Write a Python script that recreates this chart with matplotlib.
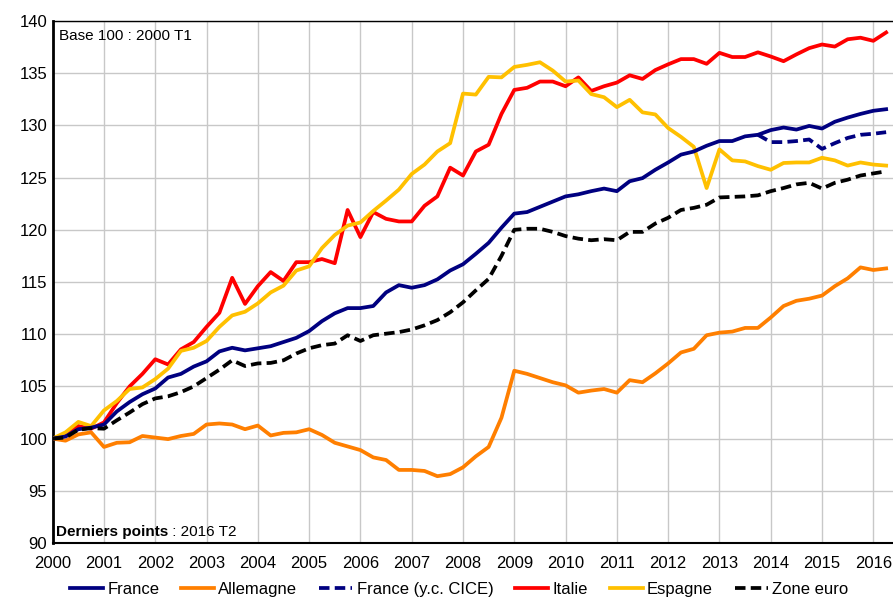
import numpy as np
import matplotlib
matplotlib.use("Agg")
import matplotlib.pyplot as plt

plt.rcParams['font.family'] = ['Liberation Sans', 'DejaVu Sans']

# trimestres 2000 T1 -> 2016 T2
quarters = np.arange(2000, 2016.5, 0.25)

france = [100, 100.2, 100.9, 101.05,
          101.35, 102.6, 103.5, 104.25,
          104.8, 105.85, 106.2, 106.9,
          107.4, 108.35, 108.7, 108.45,
          108.65, 108.85, 109.25, 109.65,
          110.3, 111.25, 112.0, 112.5,
          112.5, 112.7, 114.0, 114.7,
          114.45, 114.7, 115.25, 116.1,
          116.7, 117.7, 118.75, 120.2,
          121.55, 121.7, 122.2, 122.7,
          123.2, 123.4, 123.7, 123.95,
          123.7, 124.65, 124.95, 125.75,
          126.45, 127.2, 127.5, 128.05,
          128.5, 128.5, 128.95, 129.1,
          129.55, 129.8, 129.6, 129.95,
          129.7, 130.35, 130.75, 131.1,
          131.4, 131.55]

allemagne = [100, 99.8, 100.4, 100.6,
             99.2, 99.6, 99.65, 100.25,
             100.1, 99.95, 100.25, 100.45,
             101.35, 101.45, 101.35, 100.9,
             101.25, 100.3, 100.55, 100.6,
             100.9, 100.35, 99.6, 99.25,
             98.9, 98.2, 97.95, 97.0,
             97.0, 96.9, 96.4, 96.6,
             97.25, 98.3, 99.2, 102.0,
             106.5, 106.2, 105.8, 105.4,
             105.1, 104.4, 104.6, 104.75,
             104.4, 105.6, 105.4, 106.25,
             107.2, 108.25, 108.6, 109.9,
             110.15, 110.25, 110.6, 110.6,
             111.6, 112.7, 113.2, 113.4,
             113.7, 114.6, 115.35, 116.4,
             116.15, 116.3]

france_cice = [np.nan] * 55 + [129.1,
               128.4, 128.4, 128.5, 128.65,
               127.75, 128.3, 128.8, 129.1,
               129.2, 129.35]

italie = [100, 100.4, 101.2, 100.95,
          101.55, 103.4, 105.0, 106.2,
          107.6, 107.1, 108.55, 109.25,
          110.7, 112.05, 115.4, 112.9,
          114.6, 115.95, 115.1, 116.9,
          116.9, 117.2, 116.8, 121.9,
          119.3, 121.7, 121.05, 120.8,
          120.8, 122.3, 123.2, 125.95,
          125.2, 127.5, 128.15, 131.1,
          133.4, 133.6, 134.2, 134.2,
          133.75, 134.6, 133.3, 133.75,
          134.1, 134.8, 134.45, 135.3,
          135.85, 136.35, 136.35, 135.9,
          136.95, 136.55, 136.55, 137.0,
          136.6, 136.15, 136.8, 137.4,
          137.75, 137.55, 138.25, 138.4,
          138.1, 138.9]

espagne = [100, 100.6, 101.6, 101.2,
           102.7, 103.6, 104.75, 104.9,
           105.7, 106.7, 108.4, 108.7,
           109.35, 110.7, 111.8, 112.15,
           112.95, 114.0, 114.65, 116.1,
           116.5, 118.25, 119.5, 120.4,
           120.7, 121.8, 122.8, 123.85,
           125.35, 126.25, 127.5, 128.3,
           133.05, 132.95, 134.65, 134.6,
           135.6, 135.8, 136.05, 135.25,
           134.2, 134.3, 133.0, 132.7,
           131.75, 132.45, 131.25, 131.05,
           129.75, 128.9, 127.95, 124.0,
           127.7, 126.65, 126.55, 126.1,
           125.75, 126.4, 126.45, 126.45,
           126.9, 126.65, 126.15, 126.45,
           126.25, 126.15]

zone_euro = [100, 100.1, 100.85, 101.0,
             100.95, 101.75, 102.5, 103.3,
             103.85, 104.05, 104.45, 105.0,
             105.8, 106.6, 107.5, 106.95,
             107.2, 107.25, 107.5, 108.15,
             108.65, 108.95, 109.1, 109.9,
             109.35, 109.9, 110.05, 110.2,
             110.45, 110.85, 111.35, 112.1,
             113.05, 114.2, 115.3, 117.5,
             120.0, 120.1, 120.1, 119.8,
             119.4, 119.15, 119.0, 119.1,
             119.0, 119.8, 119.8, 120.6,
             121.15, 121.9, 122.1, 122.4,
             123.1, 123.15, 123.2, 123.3,
             123.7, 124.0, 124.35, 124.5,
             123.95, 124.5, 124.8, 125.2,
             125.4, 125.6]

years = list(range(2000, 2017))

fig = plt.figure(figsize=(8.93, 6.0), dpi=100)
ax = fig.add_axes([0.059, 0.095, 0.941, 0.87])

lw = 2.7
dash = (0, (2.8, 1.4))
l_fr, = ax.plot(quarters, france, color='#000080', lw=lw, label='France', zorder=4)
l_de, = ax.plot(quarters, allemagne, color='#FF7F00', lw=lw, label='Allemagne', zorder=3)
l_cice, = ax.plot(quarters, france_cice, color='#000080', lw=lw, ls=dash, label='France (y.c. CICE)', zorder=4)
l_it, = ax.plot(quarters, italie, color='#FF0000', lw=lw, label='Italie', zorder=3)
l_es, = ax.plot(quarters, espagne, color='#FFC000', lw=lw, label='Espagne', zorder=3)
l_ze, = ax.plot(quarters, zone_euro, color='black', lw=lw, ls=dash, label='Zone euro', zorder=5)

ax.set_xlim(2000, 2016.384)
ax.set_ylim(90, 140)
ax.set_xticks(years)
ax.set_xticklabels([str(y) for y in years])
ax.set_yticks(range(90, 141, 5))
ax.tick_params(axis='both', length=0, labelsize=12)
ax.tick_params(axis='x', pad=9)
ax.tick_params(axis='y', pad=4)
ax.grid(True, color='#c8c8c8', lw=1)
ax.set_axisbelow(True)

ax.spines['left'].set_linewidth(2)
ax.spines['bottom'].set_linewidth(1.5)
ax.spines['top'].set_linewidth(1)
ax.spines['right'].set_visible(False)

ax.text(0.007, 0.985, 'Base 100 : 2000 T1', transform=ax.transAxes,
        fontsize=11, va='top', ha='left')
t_bold = ax.text(0.004, 0.008, 'Derniers points', transform=ax.transAxes,
                 fontsize=11, fontweight='bold', va='bottom', ha='left')
ax.annotate(' : 2016 T2', xy=(1, 0), xycoords=t_bold,
            fontsize=11, va='bottom', ha='left')

fig.legend(handles=[l_fr, l_de, l_cice, l_it, l_es, l_ze],
           loc='center', bbox_to_anchor=(0.514, 0.017), ncol=6,
           frameon=False, fontsize=12, handlelength=2.0,
           handletextpad=0.25, columnspacing=1.3, borderpad=0)

fig.savefig('out.png', dpi=100)
